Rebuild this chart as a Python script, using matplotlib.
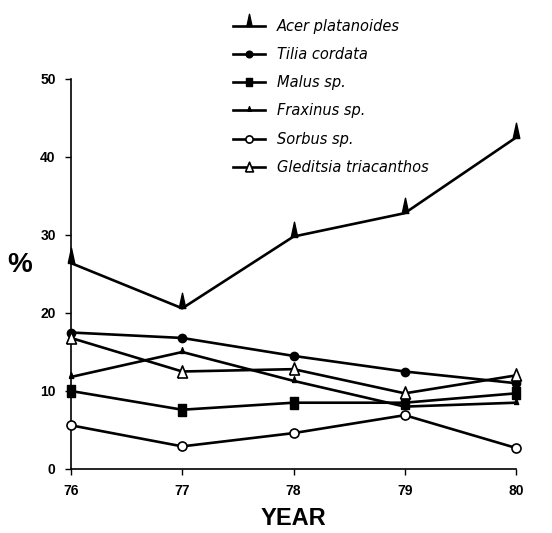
import matplotlib
matplotlib.use('Agg')
import matplotlib.pyplot as plt
from matplotlib.path import Path

plt.rcParams['font.family'] = ['Liberation Sans Narrow', 'Liberation Sans', 'DejaVu Sans']

years = [76, 77, 78, 79, 80]
acer = [26.4, 20.6, 29.8, 32.8, 42.5]
tilia = [17.5, 16.8, 14.5, 12.5, 11.0]
malus = [10.0, 7.6, 8.5, 8.5, 9.7]
fraxinus = [11.8, 15.0, 11.3, 8.0, 8.5]
sorbus = [5.6, 2.9, 4.6, 6.9, 2.7]
gleditsia = [16.8, 12.5, 12.8, 9.7, 12.0]

names = ['Acer platanoides', 'Tilia cordata', 'Malus sp.',
         'Fraxinus sp.', 'Sorbus sp.', 'Gleditsia triacanthos']

# spike markers sit on top of the line point
spike = Path([(-0.28, 0), (0, 1.3), (0.28, 0), (-0.28, 0)])
small_spike = Path([(-0.45, -0.2), (0, 1.0), (0.45, -0.2), (-0.45, -0.2)])
rect = Path([(-0.35, -0.5), (0.35, -0.5), (0.35, 0.5), (-0.35, 0.5), (-0.35, -0.5)])
tri = Path([(-0.45, -0.5), (0.45, -0.5), (0, 0.6), (-0.45, -0.5)])

fig = plt.figure(figsize=(5.52, 5.33), dpi=100)
ax = fig.add_axes([71 / 552, 64 / 533, 445 / 552, 390 / 533])

lw = 1.9
ax.plot(years, acer, color='black', lw=lw, marker=spike, ms=22, mfc='black',
        label=names[0], clip_on=False, zorder=3)
ax.plot(years, tilia, color='black', lw=lw, marker='o', ms=6, mfc='black',
        label=names[1], clip_on=False, zorder=3)
ax.plot(years, malus, color='black', lw=lw, marker=rect, ms=8, mfc='black',
        label=names[2], clip_on=False, zorder=3)
ax.plot(years, fraxinus, color='black', lw=lw, marker=small_spike, ms=7, mfc='black',
        label=names[3], clip_on=False, zorder=3)
ax.plot(years, sorbus, color='black', lw=lw, marker='o', ms=6.5, mfc='white', mew=1.2,
        label=names[4], clip_on=False, zorder=3)
ax.plot(years, gleditsia, color='black', lw=lw, marker=tri, ms=9.5, mfc='white', mew=1.2,
        label=names[5], clip_on=False, zorder=3)

ax.set_xlim(76, 80)
ax.set_ylim(0, 50)
ax.set_xticks(years)
ax.set_yticks([0, 10, 20, 30, 40, 50])
ax.spines['top'].set_visible(False)
ax.spines['right'].set_visible(False)
ax.spines['left'].set_linewidth(1.2)
ax.spines['bottom'].set_linewidth(1.2)
ax.tick_params(direction='out', length=4, width=1, labelsize=10, pad=7)
for lab in ax.get_xticklabels() + ax.get_yticklabels():
    lab.set_fontweight('bold')

ax.set_xlabel('YEAR', fontsize=17, fontweight='bold', labelpad=6)
fig.text(20 / 552, 1 - 265 / 533, '%', fontsize=20, fontweight='bold',
         ha='center', va='center')

leg = fig.legend(loc='upper left', bbox_to_anchor=(220 / 552, 1 - 6 / 533),
                 frameon=False, handlelength=2.2, handletextpad=0.8,
                 labelspacing=0.9, markerscale=0.8,
                 prop={'style': 'italic', 'size': 10.5, 'family': ['DejaVu Sans']})
fig.savefig('out.png', dpi=100)
